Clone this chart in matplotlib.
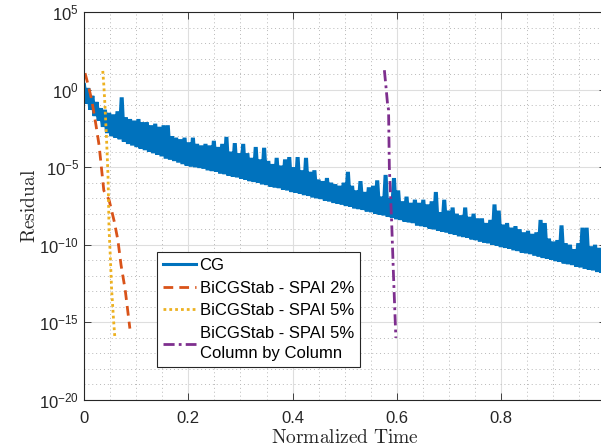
import numpy as np
import matplotlib
matplotlib.use('Agg')
import matplotlib.pyplot as plt
from matplotlib.ticker import FixedLocator, FixedFormatter

plt.rcParams['font.family'] = ['Liberation Sans', 'DejaVu Sans']
plt.rcParams['mathtext.fontset'] = 'cm'

# CG residual (log10), alternating peaks/troughs of the oscillating history
cg_log10 = [
    0.3, -0.9, 0.1, -1.3, -0.4, -1.7, -0.8, -2.0, -1.2, -2.4,
    -1.3, -2.8, -1.5, -3.0, -1.6, -3.1, -1.4, -3.2, -0.5, -3.35,
    -1.8, -3.5, -1.9, -3.6, -2.0, -3.7, -1.9, -3.8, -2.1, -3.9,
    -2.1, -4.0, -2.3, -4.1, -2.2, -4.2, -2.4, -4.3, -2.3, -4.45,
    -2.3, -4.5, -3.0, -4.6, -3.1, -4.7, -3.2, -4.8, -3.1, -4.9,
    -3.4, -4.95, -3.1, -5.0, -3.5, -5.05, -3.6, -5.1, -3.5, -5.2,
    -3.6, -5.25, -3.3, -5.3, -3.7, -5.4, -3.5, -5.45, -3.05, -5.55,
    -4.0, -5.6, -3.45, -5.65, -4.1, -5.75, -3.5, -5.8, -4.1, -5.9,
    -4.4, -5.95, -3.7, -6.0, -4.5, -6.1, -3.75, -6.15, -4.6, -6.25,
    -4.8, -6.3, -4.4, -6.35, -4.9, -6.45, -4.5, -6.5, -4.35, -6.6,
    -5.0, -6.65, -4.35, -6.7, -5.2, -6.8, -4.4, -6.85, -5.3, -6.95,
    -5.2, -7.0, -5.8, -7.05, -5.9, -7.15, -5.7, -7.2, -6.0, -7.3,
    -6.1, -7.35, -6.2, -7.4, -6.0, -7.5, -5.3, -7.55, -6.2, -7.65,
    -6.5, -7.7, -5.9, -7.75, -6.6, -7.85, -6.3, -7.9, -6.2, -8.0,
    -5.85, -8.05, -6.9, -8.1, -5.5, -8.2, -7.0, -8.25, -5.7, -8.35,
    -6.5, -8.4, -7.2, -8.5, -6.9, -8.55, -7.3, -8.6, -7.1, -8.75,
    -7.3, -8.8, -7.1, -8.85, -7.4, -8.95, -7.2, -9.0, -6.6, -9.1,
    -7.9, -9.15, -7.1, -9.2, -7.8, -9.3, -7.6, -9.35, -8.0, -9.45,
    -8.1, -9.5, -7.6, -9.55, -8.2, -9.65, -8.0, -9.7, -8.3, -9.8,
    -8.3, -9.85, -8.6, -9.9, -8.4, -10.0, -7.4, -10.05, -7.8, -10.15,
    -8.7, -10.2, -8.6, -10.25, -8.9, -10.35, -8.8, -10.4, -9.0, -10.5,
    -9.2, -10.55, -9.1, -10.6, -9.3, -10.7, -9.2, -10.75, -8.4, -10.85,
    -8.6, -10.9, -9.6, -10.95, -9.8, -11.05, -9.7, -11.1, -8.75, -11.2,
    -9.9, -11.25, -10.0, -11.3, -10.3, -11.4, -9.9, -11.45, -8.9, -11.55,
    -8.9, -11.6, -10.1, -11.65, -10.0, -11.75, -10.2, -11.8, -10.3, -11.9,
]
cg_time = np.linspace(0.0, 1.0, len(cg_log10))

bicg2_time = [0.002, 0.008, 0.015, 0.023, 0.029, 0.033, 0.038, 0.048, 0.058, 0.065, 0.071, 0.079, 0.088]
bicg2_log10 = [1.06, 0.3, -0.7, -2.3, -3.6, -4.9, -6.5, -7.1, -8.5, -9.7, -11.3, -12.9, -15.4]

bicg5_time = [0.036, 0.038, 0.040, 0.043, 0.046, 0.047, 0.048, 0.050, 0.053, 0.057, 0.059]
bicg5_log10 = [1.2, 0.3, -0.9, -3.0, -5.5, -7.1, -9.0, -10.4, -12.9, -15.0, -15.9]

bicg5c_time = [0.576, 0.579, 0.582, 0.584, 0.5855, 0.590, 0.5935, 0.598]
bicg5c_log10 = [1.25, 0.2, -0.9, -1.3, -5.0, -8.6, -12.0, -16.0]

labels = ['CG', 'BiCGStab - SPAI 2%', 'BiCGStab - SPAI 5%', 'BiCGStab - SPAI 5%\nColumn by Column']
colors = ['#0072BD', '#D95319', '#EDB120', '#7E2F8E']

yticks = [1e-20, 1e-15, 1e-10, 1e-5, 1e0, 1e5]
ytick_labels = [r'$\mathregular{10^{-20}}$', r'$\mathregular{10^{-15}}$', r'$\mathregular{10^{-10}}$',
                r'$\mathregular{10^{-5}}$', r'$\mathregular{10^{0}}$', r'$\mathregular{10^{5}}$']
xticks = [0, 0.2, 0.4, 0.6, 0.8, 1.0]
xtick_labels = ['0', '0.2', '0.4', '0.6', '0.8', '']

fig = plt.figure(figsize=(6.01, 4.48), dpi=100)
ax = fig.add_axes([84 / 601, 48 / 448, 521.5 / 601, 388 / 448])

ax.semilogy(cg_time, 10 ** np.array(cg_log10), color=colors[0], lw=2.9, label=labels[0],
            solid_joinstyle='miter')
ax.semilogy(bicg2_time, 10 ** np.array(bicg2_log10), color=colors[1], lw=2,
            linestyle=(0, (3.5, 2.2)), label=labels[1])
ax.semilogy(bicg5_time, 10 ** np.array(bicg5_log10), color=colors[2], lw=2,
            linestyle=(0, (1, 1.1)), label=labels[2])
ax.semilogy(bicg5c_time, 10 ** np.array(bicg5c_log10), color=colors[3], lw=2,
            linestyle=(0, (4, 1.5, 1, 1.5)), label=labels[3])

ax.set_xlim(0, 1)
ax.set_ylim(1e-20, 1e5)

ax.yaxis.set_major_locator(FixedLocator(yticks))
ax.yaxis.set_major_formatter(FixedFormatter(ytick_labels))
minor_y = [10.0 ** k for k in range(-20, 6) if k % 5 != 0]
ax.yaxis.set_minor_locator(FixedLocator(minor_y))
ax.yaxis.set_minor_formatter(FixedFormatter([''] * len(minor_y)))
ax.xaxis.set_major_locator(FixedLocator(xticks))
ax.xaxis.set_major_formatter(FixedFormatter(xtick_labels))
minor_x = [0.05, 0.1, 0.15, 0.25, 0.3, 0.35, 0.45, 0.5, 0.55, 0.65, 0.7, 0.75, 0.85, 0.9, 0.95]
ax.xaxis.set_minor_locator(FixedLocator(minor_x))

axis_color = '#262626'
for s in ax.spines.values():
    s.set_color(axis_color)
    s.set_linewidth(0.8)
ax.tick_params(which='both', direction='in', top=True, right=True, colors=axis_color,
               labelsize=12, width=0.6)
ax.tick_params(which='major', length=5)
ax.tick_params(which='minor', length=0)
ax.tick_params(axis='x', pad=8)

ax.grid(which='major', color='#dedede', linestyle='-', lw=0.8)
ax.grid(which='minor', color='#b8b8b8', linestyle=(0, (1, 3)), lw=0.7)
ax.set_axisbelow(True)

ax.set_xlabel(r'$\mathrm{Normalized\ Time}$', fontsize=14, color=axis_color, labelpad=2)
ax.set_ylabel(r'$\mathrm{Residual}$', fontsize=14, color=axis_color, labelpad=0)

leg = ax.legend(loc='lower left', bbox_to_anchor=(0.140, 0.085), frameon=True, fancybox=False,
                edgecolor=axis_color, framealpha=1, fontsize=12, handlelength=2.0,
                borderpad=0.35, labelspacing=0.45, handletextpad=0.2, borderaxespad=0)
leg.get_frame().set_linewidth(0.8)
leg.get_lines()[0].set_linewidth(2.2)
for t in leg.get_texts():
    t.set_linespacing(1.45)

fig.savefig('out.png', dpi=100)
